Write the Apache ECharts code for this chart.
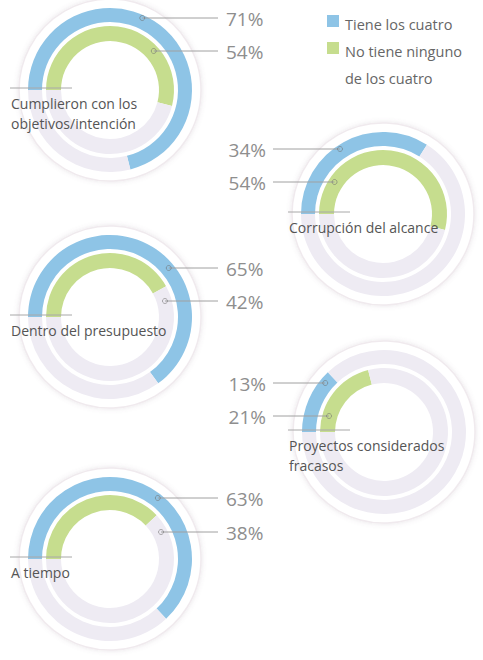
<!DOCTYPE html>
<html>
<head>
<meta charset="utf-8">
<script src="https://cdn.jsdelivr.net/npm/echarts@6/dist/echarts.min.js"></script>
<style>
html,body{margin:0;padding:0;background:#fff;}
#chart{width:483px;height:660px;}
</style>
</head>
<body>
<div id="chart"></div>
<script>
// ---- data ----
const categories = ['Cumplieron con los\nobjetivos/intención', 'Corrupción del alcance', 'Dentro del presupuesto', 'Proyectos considerados\nfracasos', 'A tiempo'];
const tieneLosCuatro = [71, 34, 65, 13, 63];
const noTieneNinguno = [54, 54, 42, 21, 38];
const seriesNames = ['Tiene los cuatro', 'No tiene ninguno\nde los cuatro'];

// ---- layout ----
const centers = [[110, 90], [383, 214], [110, 317], [384, 432], [110, 559]];
const side = ['left', 'right', 'left', 'right', 'left'];
const labelDy = [[-72, -39], [-65, -32], [-49, -16], [-49, -16], [-61, -27]];
const BLUE = '#8ec4e6', GREEN = '#c6dd8e', TRACK = '#eeebf3';
const R_BG = 91, R_BLUE = [68, 82], R_GREEN = [49, 64];
const FONT = '"Open Sans", "Noto Sans", sans-serif';

const series = [];
const graphic = [];

centers.forEach((c, i) => {
  const common = {
    type: 'pie', center: c, startAngle: 180, clockwise: true, silent: true,
    label: {show: false}, labelLine: {show: false}, emphasis: {disabled: true}
  };
  series.push(Object.assign({}, common, {
    radius: [0, R_BG],
    data: [{value: 1, name: 'bg', itemStyle: {color: '#ffffff', borderColor: '#f0eaee', borderWidth: 1.5,
      shadowBlur: 5, shadowColor: 'rgba(120,100,120,0.18)'}}]
  }));
  series.push(Object.assign({}, common, {
    radius: R_BLUE,
    data: [
      {value: tieneLosCuatro[i], name: seriesNames[0], itemStyle: {color: BLUE}},
      {value: 100 - tieneLosCuatro[i], name: 'resto', itemStyle: {color: TRACK}}
    ]
  }));
  series.push(Object.assign({}, common, {
    radius: R_GREEN,
    data: [
      {value: noTieneNinguno[i], name: seriesNames[1], itemStyle: {color: GREEN}},
      {value: 100 - noTieneNinguno[i], name: 'resto', itemStyle: {color: TRACK}}
    ]
  }));

  // percentage annotations
  const vals = [tieneLosCuatro[i], noTieneNinguno[i]];
  const outerR = [R_BLUE[1], R_GREEN[1]];
  vals.forEach((v, k) => {
    const dy = labelDy[i][k];
    const y = c[1] + dy;
    const off = Math.sqrt(outerR[k] * outerR[k] - dy * dy) - 7;
    const left = side[i] === 'left';
    const mx = left ? c[0] + off : c[0] - off;
    const lx = left ? 218 : 273;
    graphic.push({type: 'line', silent: true, z: 100,
      shape: {x1: Math.min(mx, lx), y1: y, x2: Math.max(mx, lx), y2: y},
      style: {stroke: '#a0a0a0', lineWidth: 1}});
    graphic.push({type: 'circle', silent: true, z: 101,
      shape: {cx: mx, cy: y, r: 2.5},
      style: {fill: 'none', stroke: 'rgba(110,110,110,0.55)', lineWidth: 1}});
    graphic.push({type: 'text', silent: true, z: 101,
      style: {text: v + '%', x: left ? 226 : 266, y: y + 1, font: '19px ' + FONT, fill: '#8e8e8e',
        align: left ? 'left' : 'right', verticalAlign: 'middle'}});
  });

  // category label
  const lx0 = side[i] === 'left' ? 10 : 288;
  graphic.push({type: 'line', silent: true, z: 100,
    shape: {x1: lx0, y1: c[1] - 2, x2: lx0 + 62, y2: c[1] - 2},
    style: {stroke: '#a8a8a8', lineWidth: 1}});
  graphic.push({type: 'text', silent: true, z: 101,
    style: {text: categories[i], x: lx0 + 1, y: c[1] + 3, font: '14px ' + FONT, fill: '#555555',
      lineHeight: 20, align: 'left', verticalAlign: 'top'}});
});

// legend
const legendColors = [BLUE, GREEN];
const legendY = [21, 48];
seriesNames.forEach((n, k) => {
  graphic.push({type: 'rect', silent: true, shape: {x: 327, y: legendY[k] - 6, width: 12, height: 12},
    style: {fill: legendColors[k]}});
  graphic.push({type: 'text', silent: true,
    style: {text: n, x: 345, y: legendY[k] - 10, font: '14.5px ' + FONT, fill: '#666666',
      lineHeight: 27, align: 'left', verticalAlign: 'top'}});
});

const chart = echarts.init(document.getElementById('chart'), null, {renderer: 'svg'});
chart.setOption({
  animation: false,
  backgroundColor: '#ffffff',
  series: series,
  graphic: graphic
});
</script>
</body>
</html>
